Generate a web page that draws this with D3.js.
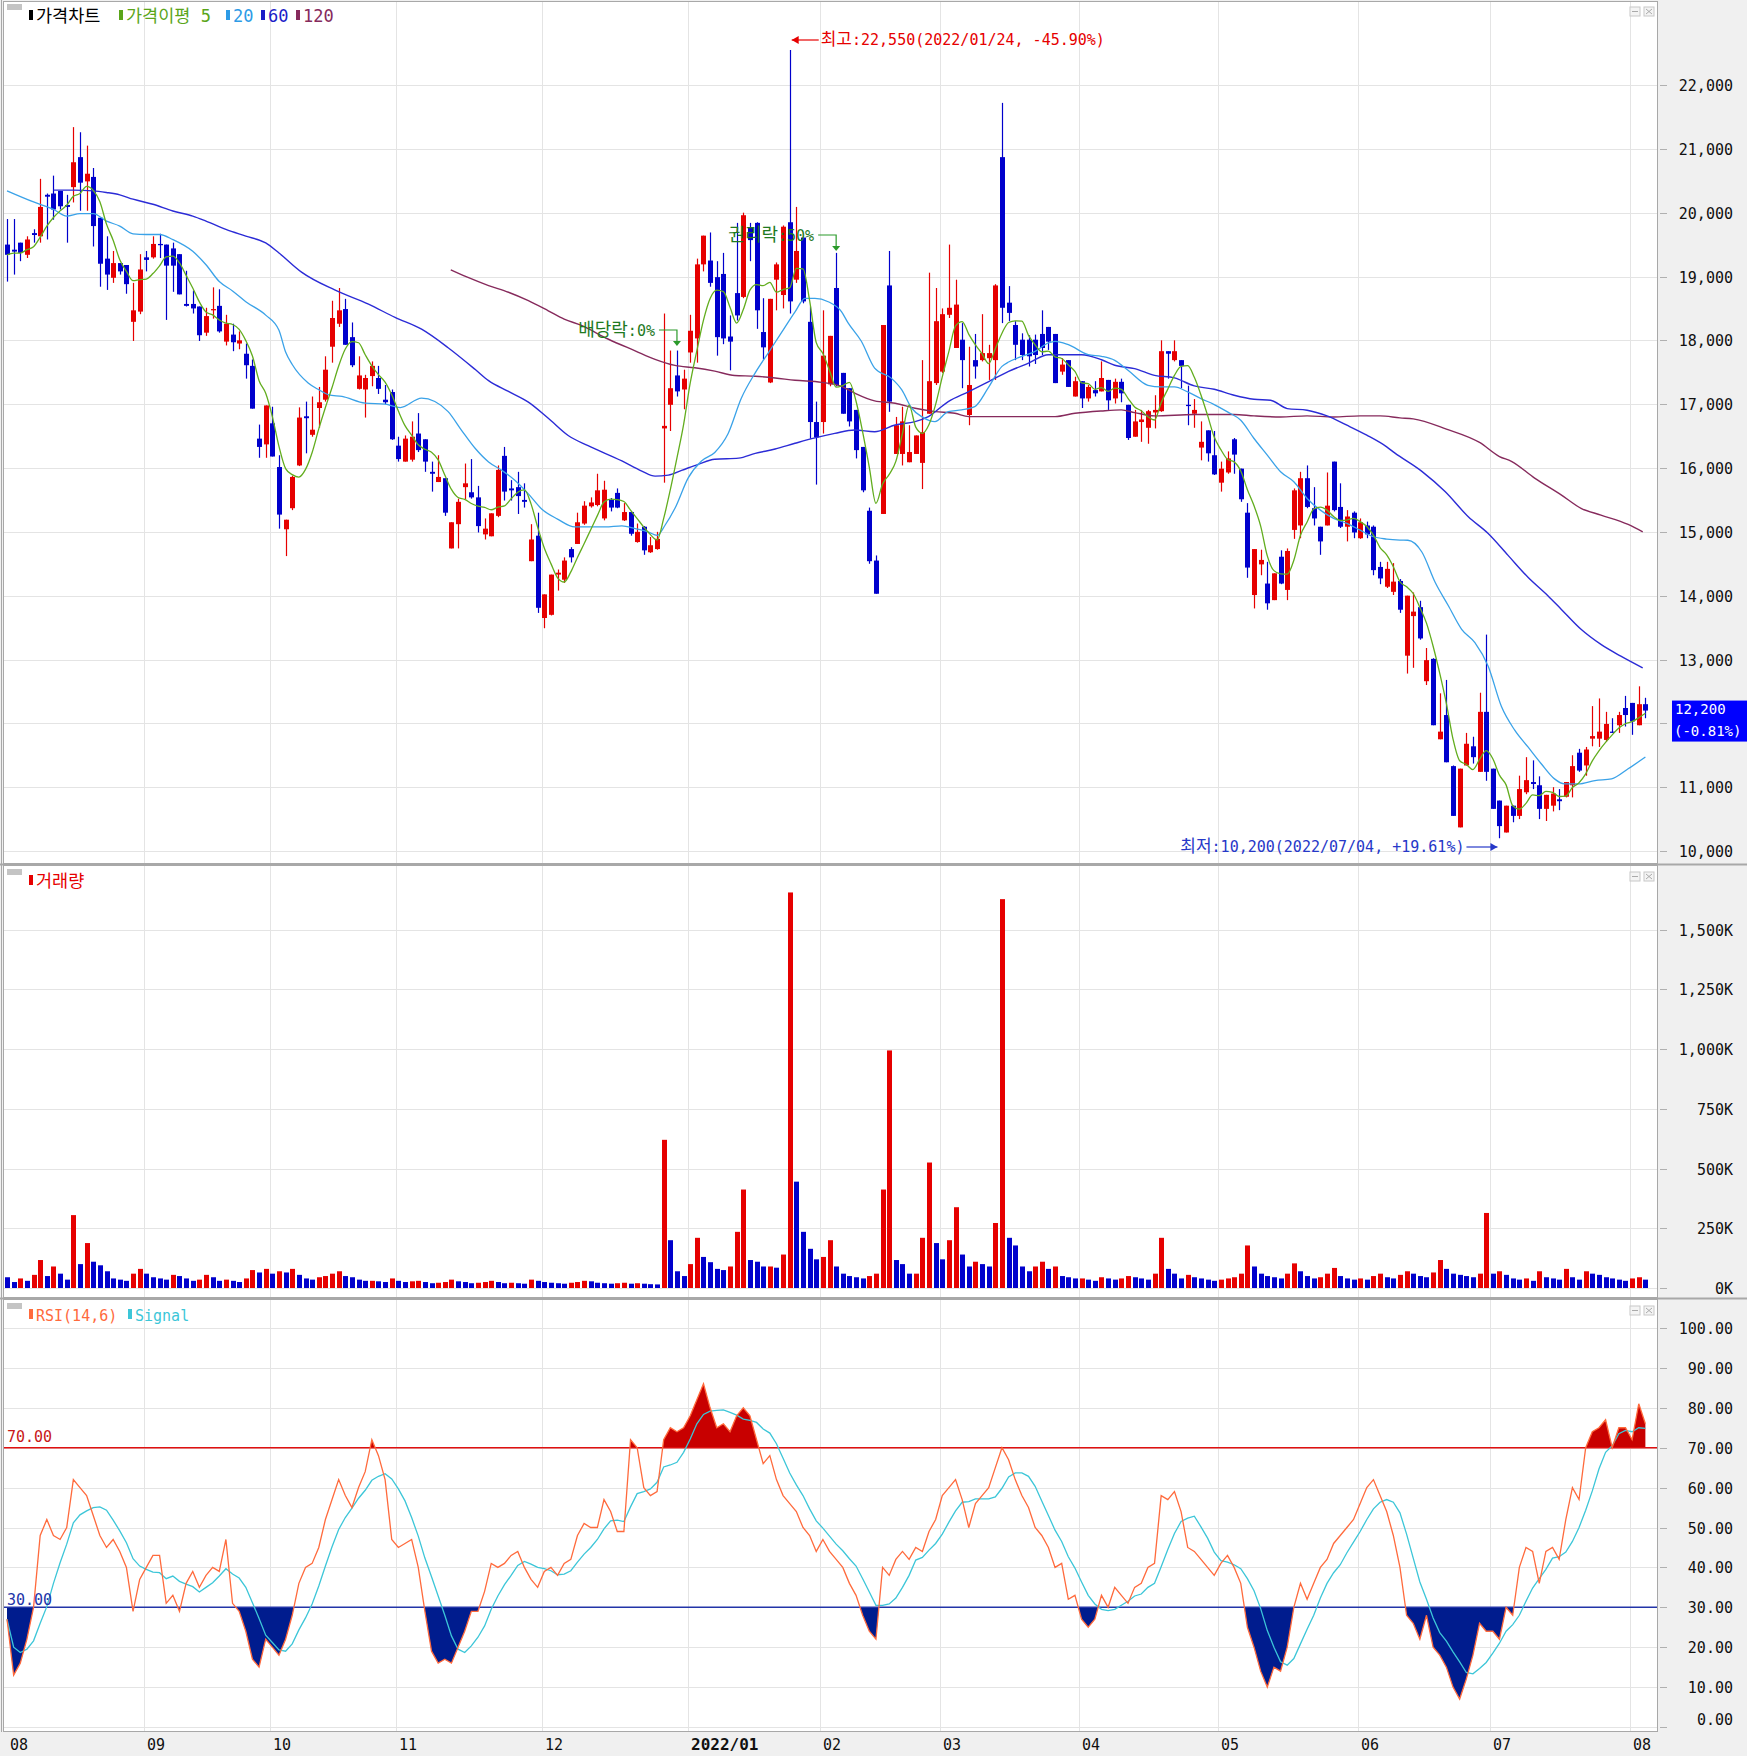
<!DOCTYPE html>
<html><head><meta charset="utf-8">
<script src="https://cdn.jsdelivr.net/npm/d3@7"></script>
<style>
html,body{margin:0;padding:0;background:#f0f0f0;}
svg{display:block;}
</style></head><body>
<svg id="c" width="1747" height="1756"></svg>
<script>
// ---------------- DATA ----------------
const monthDays = [
 ["2021-08",[2,3,4,5,6,9,10,11,12,13,17,18,19,20,23,24,25,26,27,30,31]],
 ["2021-09",[1,2,3,6,7,8,9,10,13,14,15,16,17,23,24,27,28,29,30]],
 ["2021-10",[1,5,6,7,8,12,13,14,15,18,19,20,21,22,25,26,27,28,29]],
 ["2021-11",[1,2,3,4,5,8,9,10,11,12,15,16,17,18,19,22,23,24,25,26,29,30]],
 ["2021-12",[1,2,3,6,7,8,9,10,13,14,15,16,17,20,21,22,23,24,27,28,29,30]],
 ["2022-01",[3,4,5,6,7,10,11,12,13,14,17,18,19,20,21,24,25,26,27,28]],
 ["2022-02",[3,4,7,8,9,10,11,14,15,16,17,18,21,22,23,24,25,28]],
 ["2022-03",[2,3,4,7,8,10,11,14,15,16,17,18,21,22,23,24,25,28,29,30,31]],
 ["2022-04",[1,4,5,6,7,8,11,12,13,14,15,18,19,20,21,22,25,26,27,28,29]],
 ["2022-05",[2,3,4,6,9,10,11,12,13,16,17,18,19,20,23,24,25,26,27,30,31]],
 ["2022-06",[2,3,7,8,9,10,13,14,15,16,17,20,21,22,23,24,27,28,29,30]],
 ["2022-07",[1,4,5,6,7,8,11,12,13,14,15,18,19,20,21,22,25,26,27,28,29]],
 ["2022-08",[1,2,3]]
];
const monthLabels = ["08","09","10","11","12","2022/01","02","03","04","05","06","07","08"];

const open = [
19500,19420,19530,19340,19680,19630,20280,20300,20340,20120,
20400,20870,20490,20560,19920,19280,18980,19210,19180,18290,
18450,19300,19300,19510,19500,19440,19350,18570,18570,18530,
18120,18470,18540,17980,18090,17950,17790,17600,16460,16370,
16700,16015,15040,15370,16040,16810,16520,16940,17070,17900,
18260,18490,18050,17240,17230,17440,17410,17070,17190,16350,
16100,16130,16540,16450,15940,15780,15840,14740,15120,15700,
15620,15540,14960,14930,15250,16190,15680,15700,15500,14540,
14940,13650,13700,14330,14250,14730,14810,15130,15400,15420,
15210,15500,15610,15180,15310,14840,15080,14680,14730,16620,
16990,17450,17230,17810,18030,19190,19250,18990,19040,18060,
18740,18680,19770,19840,18130,17340,18950,18710,19850,18950,
19610,18290,16720,16720,17310,18820,17490,17250,16910,16330,
15330,14550,15280,18860,16220,16220,16090,16220,16080,16850,
17330,17510,18400,17880,18010,16830,17690,17690,17720,17690,
20870,18590,18240,18010,18010,18010,18100,18210,18100,17510,
17690,17120,17360,17090,17220,17200,17380,17090,17350,16990,
16490,16720,16630,16870,16890,17830,17690,17690,16990,16850,
16320,16590,16200,15770,15930,16450,15990,15300,14010,14490,
14190,13930,14610,14090,15030,15100,15840,15370,15080,15100,
16100,15390,15080,15300,14900,15100,15080,14450,14140,14060,
14230,13060,13680,13820,12660,13010,11750,12130,11330,10370,
11340,11640,11240,12180,11290,10790,10290,10710,10550,10920,
11080,11030,10660,10710,10810,10850,11030,11540,11340,11760,
11760,11740,11870,11970,12240,12320,11970,12300];
const high = [
19900,19900,19530,19630,19740,20530,20300,20580,20340,20280,
21340,21260,21050,20700,19920,19630,19400,19210,19180,18900,
19350,19400,19630,19670,19500,19530,19350,19090,18780,18530,
18510,18830,18800,18400,18260,18140,17950,17700,16680,16980,
16960,16200,15190,15880,16950,17040,17120,17270,17750,18620,
18820,18650,18280,17750,17460,17670,17600,17300,17230,16490,
16510,16730,16860,16450,16100,16200,15840,15150,15520,16070,
16140,15720,15210,15290,16040,16330,15810,15940,15760,15120,
15300,14020,14330,14410,14600,14760,15300,15480,15540,15910,
15800,15530,15680,15450,15320,15130,15090,14920,15000,18420,
17840,17840,17540,18400,19280,19640,19690,19240,19370,18390,
19840,20000,19840,19850,18660,18650,19220,19800,22550,20090,
19610,18530,17040,18470,18070,19370,17490,17250,16910,16330,
15380,14630,18240,19400,16800,16960,16670,16510,17690,19060,
18820,18500,19500,18950,18270,17900,18100,18410,17930,18880,
21720,18850,18300,18110,18080,18090,18470,18210,18100,17720,
17690,17430,17360,17300,17360,17670,17380,17400,17400,16990,
16910,16910,16910,17140,18000,17830,18000,17690,17290,17080,
16730,16590,16580,16100,16260,16470,15990,15450,14730,14720,
14530,14350,14710,14740,15680,15940,16040,15700,15080,15930,
16100,15760,15340,15320,15210,15160,15100,14530,14530,14510,
14260,14000,14050,13920,13180,13020,12470,12680,11340,11290,
11850,11790,12480,13390,11290,10790,10710,10710,11180,11470,
11420,11170,10880,11000,10970,11080,11500,11600,11630,12270,
12390,12180,12080,12180,12430,12320,12580,12400];
const low = [
18920,19030,19240,19290,19530,19530,19580,19890,20050,19530,
20160,20030,20030,19470,18840,18790,18900,19030,18730,17990,
18410,19080,19280,19290,18320,18760,18720,18530,18420,17990,
18070,18340,18120,17920,17830,17860,17400,16930,16160,16160,
16180,15050,14620,15340,16030,16230,16490,16630,17040,17650,
18210,17930,17580,17230,16790,17280,17160,17000,16440,16100,
16100,16100,16250,15940,15630,15780,15250,14740,14740,15510,
15520,14990,14880,14930,15230,15490,15490,15280,15380,14540,
13730,13490,13690,14080,14200,14520,14810,15110,15380,15400,
15180,15320,15370,15170,14940,14830,14640,14670,14720,15770,
16580,17120,16920,17650,17650,19080,18840,17760,17940,17530,
18310,18660,19240,18180,17700,17330,18470,18500,18420,18900,
18580,16460,15740,16540,17280,17280,16850,16650,16150,15620,
14500,14030,15280,16880,16220,16040,16090,16220,15670,16850,
17300,17490,18350,17880,17250,16670,17400,17670,17380,17380,
18270,18300,17690,17690,17590,17630,17770,17850,17330,17460,
17270,17120,16940,17040,17120,17200,16910,17010,17030,16440,
16490,16410,16380,16620,16880,17400,17670,17250,16670,16630,
16120,16100,15890,15630,15910,15910,15470,14280,13800,14320,
13780,13930,14180,13930,14890,14900,15370,15100,14640,15100,
15320,15060,14850,14900,14890,14900,14320,14180,14120,14010,
13730,12780,12870,13310,12600,11970,11750,11390,10550,10370,
11340,11370,11240,11100,10660,10200,10290,10450,10500,10890,
10970,10500,10470,10620,10640,10840,10840,11240,11180,11640,
11630,11710,11850,11850,11950,11820,11970,12080];
const close = [
19340,19390,19370,19580,19650,20090,20250,20050,20100,20090,
20790,20470,20610,19790,19200,19030,19210,19080,18880,18470,
19110,19260,19510,19490,19170,19170,18720,18540,18500,18080,
18380,18490,18140,18260,17970,18000,17610,16930,16330,16980,
16180,15270,15190,15860,16790,16780,16600,17030,17540,18350,
18470,17930,17610,17450,17410,17600,17240,17030,16450,16140,
16460,16490,16280,16100,15910,15860,15300,15150,15470,15760,
15540,15090,15050,15290,15970,15630,15650,15560,15470,14880,
13810,14020,14330,14360,14550,14600,15150,15410,15460,15650,
15660,15380,15380,15310,14970,15000,14710,14790,14890,16660,
17250,17200,17400,18150,19190,19640,18900,18050,18030,17980,
18390,19960,19570,18470,17890,18650,19190,19780,18610,19400,
18610,16720,16480,17760,18070,17300,16850,16730,16280,15650,
14540,14030,18240,17040,16670,16730,16250,16510,16560,17360,
18300,18410,18510,18560,17690,17300,17590,17800,17800,18860,
18510,18430,17930,17770,17750,17770,17880,17980,17330,17620,
17270,17360,17090,17270,17170,17410,17060,17350,17170,16470,
16730,16760,16890,16910,17830,17790,17830,17600,16970,16910,
16410,16230,15900,15990,16150,16210,15510,14440,14730,14560,
13880,14350,14190,14700,15650,15840,15390,15210,14850,15410,
15340,15080,15240,14990,15150,14960,14400,14270,14420,14220,
13780,14000,13750,13330,12990,11970,11870,11390,10550,11290,
11680,11470,12180,11240,10660,10390,10710,10550,10970,11110,
11050,10660,10880,10900,10780,11080,11330,11260,11590,11800,
11870,11990,11850,12130,12130,12030,12300,12200];
// volume, thousands of shares
const volume = [
45,25,40,30,55,117,50,90,60,35, 305,100,188,110,95,70,40,35,30,60, 80,
60,45,40,35,55,50,40,30,35,55,45,30,35,30,25,40,75,65,80,
60,70,65,80,55,40,35,45,50,60,70,50,45,35,30,30,28,25,40,
30,25,28,30,25,20,22,25,35,28,25,20,22,25,30,25,20,22,20,18,35,30,
25,22,20,18,22,25,30,28,22,20,18,20,22,18,20,18,16,15,620,200,70,50,
100,210,130,108,80,75,90,235,412,117,110,90,90,85,140,1655,445,235,164,120,
130,200,90,60,50,45,40,50,60,412,994,117,100,60,60,210,525,188,
120,200,338,140,90,110,100,90,272,1627,210,178,90,70,90,110,80,90,50,45,40,
40,35,30,45,40,35,40,50,45,40,35,60,210,80,60,40,55,45,40,35,30,
35,40,45,60,178,90,60,50,45,40,60,103,70,50,40,45,60,84,50,40,35,
40,35,50,60,45,40,55,70,60,50,45,65,117,80,60,55,50,45,60,314,
60,70,55,40,35,40,30,70,45,40,35,80,45,35,70,60,55,45,40,35,30,
40,45,35];
// RSI(14) values
const rsi = [
27,13,16,22,30,48,52,48,47,50, 62,60,58,53,48,45,47,44,40,29,
37,40,43,43,31,33,29,36,39,35, 38,40,39,47,31,29,24,17,15,22,
20,18,22,28,36,40,41,45,52,57, 62,58,55,60,64,72,68,62,47,45,
46,47,40,29,19,16,17,16,20,24, 29,29,34,41,40,41,43,44,40,37,
35,39,40,38,41,42,48,51,50,50, 57,54,49,49,72,70,60,58,59,72,
75,74,75,78,82,86,80,75,76,74, 78,80,78,72,66,68,62,58,56,54,
50,48,44,47,44,42,40,36,33,28, 24,22,40,38,42,44,42,45,44,49,
52,58,60,62,57,50,56,58,60,65, 70,67,62,58,55,50,48,45,40,41,
32,33,27,25,27,33,30,35,33,31, 35,36,40,41,58,57,59,54,45,44,
42,40,38,41,43,40,36,25,20,14, 10,15,14,20,30,36,32,36,40,42,
46,48,50,52,56,60,62,58,54,48, 40,28,26,22,28,20,18,15,10,7,
12,18,26,24,24,22,30,28,40,45, 44,36,44,45,42,52,60,57,70,74,
75,77,70,75,75,72,81,76];
// moving averages: [candle index, value]
const ma20Pts = [[0,20342],[4,20168],[7,20053],[9,19947],[11,19984],[13,19984],[15,19868],[17,19790],[19,19668],[21,19658],[23,19658],[25,19579],[28,19395],[30,19184],[32,18921],[34,18774],[36,18605],[39,18395],[41,18158],[42,17816],[43,17621],[45.4,17332],[47,17226],[48.5,17147],[50.5,17121],[54,17016],[57,17000],[59.3,16947],[62.5,17095],[64.5,17042],[66.5,16884],[68.5,16595],[70.6,16305],[72.6,16095],[74.6,15963],[76.6,15805],[78.6,15595],[80.6,15358],[83,15200],[85.6,15077],[90.2,15077],[92.7,15093],[94.7,15050],[96.7,14997],[98,14944],[99.2,15103],[100.7,15369],[102.7,15846],[104.7,16111],[106.7,16244],[108.7,16536],[110.7,17093],[112.8,17491],[114.8,17809],[116.8,18127],[118.8,18446],[120.3,18658],[121.8,18658],[123.8,18605],[125.8,18450],[126.8,18273],[128.8,17985],[130.8,17565],[133.3,17408],[134.9,17224],[136.4,16936],[137.9,16805],[139.9,16726],[141.9,16884],[143.9,16910],[145.9,16962],[147.9,17251],[150,17592],[151,17660],[153,17749],[155,17827],[157,17959],[158,17985],[160,17932],[163,17775],[165,17749],[167,17687],[169,17531],[172,17296],[174,17270],[176,17270],[178,17192],[180,17087],[182,16994],[184,16879],[186,16748],[188,16462],[190,16201],[192,15940],[194,15784],[196,15523],[198,15340],[200,15210],[202,15132],[204,15027],[206,14923],[208,14887],[210,14871],[211.2,14868],[213.3,14684],[215.3,14210],[217.3,13842],[219.3,13473],[221.3,13263],[223.3,12894],[225.3,12262],[227.3,11893],[229.3,11630],[231.3,11367],[233.3,11130],[234.8,11051],[236.9,11051],[239.4,11104],[241.9,11130],[244.4,11288],[247,11472]];
const ma60Pts = [[7,20353],[10,20353],[13,20342],[15,20316],[17,20279],[19,20211],[22,20132],[25,20026],[28,19947],[30,19868],[33,19737],[36,19632],[39,19526],[41,19368],[44.4,19068],[49.4,18789],[54.5,18568],[58.5,18358],[62.5,18174],[66.5,17884],[70.6,17542],[72.6,17368],[75.6,17200],[78.6,17032],[81.6,16779],[84.6,16509],[87.6,16350],[92.7,16111],[95.7,15952],[97.7,15873],[99.7,15889],[101.7,15963],[104.2,16058],[106.7,16138],[110.3,16154],[112.8,16228],[115.8,16297],[118.8,16387],[121.8,16472],[124.8,16543],[127.8,16595],[130.8,16569],[133.9,16674],[136.9,16726],[138.9,16805],[141.9,17041],[145,17198],[148,17355],[151,17513],[154,17644],[157,17775],[159,17775],[162,17775],[165,17696],[167,17609],[170,17557],[173,17452],[176,17411],[179,17286],[182,17233],[185,17140],[188,17077],[190.5,17061],[193,16931],[196,16905],[199,16816],[202,16670],[205,16514],[208,16331],[209.2,16237],[213.3,15947],[216.8,15631],[220.3,15237],[223.3,14974],[226.3,14631],[229.3,14289],[232.3,14000],[234.3,13789],[237.3,13473],[240.3,13236],[243.3,13052],[246.6,12868]];
const ma120Pts = [[66.9,19105],[69.4,18989],[72.6,18858],[75.6,18753],[78.6,18621],[81.6,18463],[84,18332],[86.6,18233],[90.6,18021],[94.7,17836],[97.7,17703],[100.7,17607],[103.7,17570],[106.7,17517],[109.7,17448],[112.8,17438],[115.8,17411],[118.8,17374],[122.8,17342],[125.8,17279],[127.8,17172],[130.8,17051],[133.9,17015],[136.9,16936],[139.9,16884],[142.9,16857],[145,16805],[148,16805],[153,16805],[158,16805],[161,16857],[165,16894],[168,16910],[170,16868],[173,16816],[179,16837],[185,16837],[188,16816],[192,16800],[196,16816],[200,16800],[204,16816],[207,16816],[210,16785],[212,16770],[217,16610],[222,16400],[225,16180],[226.8,16105],[230.3,15842],[234.3,15579],[237.3,15368],[240.3,15263],[244.4,15116],[246.6,15000]];
const priceTicks = [10000,11000,12000,13000,14000,15000,16000,17000,18000,19000,20000,21000,22000];
const volTicks = [0,250,500,750,1000,1250,1500];
const rsiTicks = [0,10,20,30,40,50,60,70,80,90,100];
const lastPrice = 12200, lastChange = "-0.81%";
const highNote = {label:"최고:22,550(2022/01/24, -45.90%)", date:"2022-01-24", value:22550};
const lowNote = {label:"최저:10,200(2022/07/04, +19.61%)", date:"2022-07-04", value:10200};
const eventNotes = [{label:"배당락:0%", date:"2021-12-29"},{label:"권리락:50%", date:"2022-02-07"}];

// ---------------- BUILD ----------------
const dates = monthDays.flatMap(([m,ds]) => ds.map(d => m + "-" + String(d).padStart(2,"0")));
const monthStarts = monthDays.map(([m,ds]) => m + "-" + String(ds[0]).padStart(2,"0"));

const svg = d3.select("#c");
const FONT = '"DejaVu Sans Mono","Noto Sans CJK KR",monospace';
const PL = 4, PR = 1657;
const P = [{t:2,b:863},{t:866,b:1297},{t:1300,b:1731}];

const xb = d3.scaleBand().domain(dates).range([3.7,1648.7]).paddingInner(0.28).paddingOuter(0.14);
const bw = xb.bandwidth(), step = xb.step();
const xc = d => xb(d) + bw/2;
const xi = i => xb(dates[0]) + bw/2 + i*step;

const yP = d3.scaleLinear().domain([10000,22000]).range([851,85]);
const yV = d3.scaleLinear().domain([0,1500]).range([1288,929.5]);
const yR = d3.scaleLinear().domain([0,100]).range([1727,1328]);

// price box extent (covers the axis label behind it)
const boxTop = yP(lastPrice) - 10, boxBottom = yP(lastPrice) + 31;

function richText(g, x, y, str, size, hsize, fill, anchor){
  const t = g.append("text").attr("x",x).attr("y",y).attr("font-family",FONT).attr("font-size",size).attr("fill",fill);
  if (anchor) t.attr("text-anchor",anchor);
  str.split(/([가-힣]+)/).filter(s=>s.length).forEach(s => {
    const ts = t.append("tspan").text(s);
    if (/[가-힣]/.test(s)) ts.attr("font-size",hsize);
  });
  return t;
}

// backgrounds
svg.append("rect").attr("width",1747).attr("height",1756).attr("fill","#f0f0f0");
P.forEach(p => svg.append("rect").attr("x",PL).attr("y",p.t).attr("width",PR-PL).attr("height",p.b-p.t).attr("fill","#fff"));

const grid = svg.append("g").attr("stroke","#e4e4e4").attr("stroke-width",1);
P.forEach(p => {
  monthStarts.slice(1).forEach(d => {
    const x = Math.round(xb(d))+0.5;
    grid.append("line").attr("x1",x).attr("x2",x).attr("y1",p.t).attr("y2",p.b);
  });
});
const hgrid = (ticks, y, p) => ticks.forEach(t => {
  const yy = Math.round(y(t))+0.5;
  if (yy > p.t && yy < p.b) grid.append("line").attr("x1",PL).attr("x2",PR).attr("y1",yy).attr("y2",yy);
});
hgrid(priceTicks, yP, P[0]); hgrid(volTicks, yV, P[1]); hgrid(rsiTicks, yR, P[2]);

// axis labels and ticks
const axisG = svg.append("g").attr("font-family",FONT).attr("font-size",15).attr("fill","#111").attr("text-anchor","end");
const axisLabels = (ticks, y, fmt, bottom, skip) => ticks.forEach(t => {
  const yy = Math.round(y(t))+0.5;
  axisG.append("line").attr("x1",PR+3).attr("x2",PR+10).attr("y1",yy).attr("y2",yy).attr("stroke","#b0b0b0");
  if (skip && skip(yy)) return;
  axisG.append("text").attr("x",1733).attr("y",Math.min(yy+5,bottom)).text(fmt(t));
});
axisLabels(priceTicks, yP, d3.format(","), 860, yy => yy > boxTop - 8 && yy < boxBottom + 8);
axisLabels(volTicks, yV, v => d3.format(",")(v)+"K", 1294);
axisLabels(rsiTicks, yR, v => v.toFixed(2), 1725);

// x labels
const xl = svg.append("g").attr("font-family",FONT).attr("font-size",15).attr("fill","#111");
monthStarts.forEach((d,k) => {
  const t = xl.append("text").attr("x", Math.round(xb(d)) + (k===0?5:3)).attr("y",1750).text(monthLabels[k]);
  if (monthLabels[k].length > 2) t.attr("font-weight","bold").attr("font-size",16);
});

// ---------- price panel ----------
const UP = "#e60000", DN = "#0000cc";
const cg = svg.append("g");
dates.forEach((d,i) => {
  const up = close[i] >= open[i];
  const col = up ? UP : DN;
  const x = Math.round(xc(d));
  cg.append("line").attr("x1",x+0.5).attr("x2",x+0.5).attr("y1",yP(high[i])).attr("y2",yP(low[i])).attr("stroke",col).attr("stroke-width",1.2);
  const y1 = yP(Math.max(open[i],close[i])), y2 = yP(Math.min(open[i],close[i]));
  cg.append("rect").attr("x",x-2).attr("y",y1).attr("width",5).attr("height",Math.max(1.2,y2-y1)).attr("fill",col);
});

// moving averages
const ma5 = close.map((c,i) => d3.mean(close.slice(Math.max(0,i-4), i+1)));
const lineIdx = d3.line().x(p => xi(p[0])).y(p => yP(p[1])).curve(d3.curveMonotoneX);
svg.append("path").attr("d", lineIdx(ma120Pts)).attr("fill","none").attr("stroke","#862a5c").attr("stroke-width",1.4);
svg.append("path").attr("d", lineIdx(ma60Pts)).attr("fill","none").attr("stroke","#2b2bd6").attr("stroke-width",1.4);
svg.append("path").attr("d", lineIdx(ma20Pts)).attr("fill","none").attr("stroke","#3aa2e8").attr("stroke-width",1.3);
svg.append("path").attr("d", lineIdx(ma5.map((v,i)=>[i,v]))).attr("fill","none").attr("stroke","#62ad1e").attr("stroke-width",1.3);

// legends
const legendItem = (g, x, y, col, txt, size, hsize) => {
  g.append("rect").attr("x",x).attr("y",y-12).attr("width",4).attr("height",10).attr("fill",col);
  richText(g, x+7, y, txt, size, hsize, col);
};
const boxIcon = (y) => {
  svg.append("rect").attr("x",7).attr("y",y).attr("width",15).attr("height",6).attr("fill","#c4c4c4");
  svg.append("rect").attr("x",1630).attr("y",y+3).attr("width",10).attr("height",9).attr("fill","#f4f4f4").attr("stroke","#c8c8c8");
  svg.append("rect").attr("x",1644).attr("y",y+3).attr("width",10).attr("height",9).attr("fill","#f4f4f4").attr("stroke","#c8c8c8");
  svg.append("line").attr("x1",1632).attr("x2",1638).attr("y1",y+7.5).attr("y2",y+7.5).attr("stroke","#aaa");
  svg.append("path").attr("d",`M1646,${y+5}L1652,${y+10}M1652,${y+5}L1646,${y+10}`).attr("stroke","#aaa");
};
const lg = svg.append("g");
boxIcon(4);
legendItem(lg, 29, 22, "#000", "가격차트", 17, 17.5);
legendItem(lg, 119, 22, "#5aa51a", "가격이평 5", 17, 17.5);
legendItem(lg, 226, 22, "#2d9be6", "20", 17, 17);
legendItem(lg, 261, 22, "#1c1cc8", "60", 17, 17);
legendItem(lg, 296, 22, "#862a5c", "120", 17, 17);

// annotations
const an = svg.append("g");
(function(){
  const i = dates.indexOf(highNote.date);
  const x = xi(i) + 2, y = 40;
  an.append("line").attr("x1",x).attr("x2",x+27).attr("y1",y).attr("y2",y).attr("stroke",UP).attr("stroke-width",1.2);
  an.append("path").attr("d",`M${x},${y}l7,-4v8z`).attr("fill",UP);
  richText(an, x+29, y+5, highNote.label, 15, 17, UP);
})();
(function(){
  const i = dates.indexOf(lowNote.date);
  const x = xi(i) - 2, y = 847;
  an.append("line").attr("x1",x-31).attr("x2",x).attr("y1",y).attr("y2",y).attr("stroke","#2638c8").attr("stroke-width",1.2);
  an.append("path").attr("d",`M${x},${y}l-7,-4v8z`).attr("fill","#2638c8");
  richText(an, x-33, y+5, lowNote.label, 15, 17, "#2638c8", "end");
})();
eventNotes.forEach((e,k) => {
  const i = dates.indexOf(e.date);
  const x = xi(i), ytxt = k===0 ? 330 : 235;
  const tx = x - 22;
  richText(an, tx, ytxt+6, e.label, 15, 18, "#1f7a1f", "end");
  an.append("path").attr("d",`M${tx+4},${ytxt}H${x}V${ytxt+13}`).attr("fill","none").attr("stroke","#2a9a2a").attr("stroke-width",1.2);
  an.append("path").attr("d",`M${x-4},${ytxt+11}h8l-4,5z`).attr("fill","#2a9a2a");
});

// current price box
(function(){
  const y = yP(lastPrice);
  svg.append("rect").attr("x",1672).attr("y",boxTop).attr("width",75).attr("height",boxBottom-boxTop).attr("fill","#0000ff");
  svg.append("text").attr("x",1675).attr("y",y+3).attr("font-family",FONT).attr("font-size",14).attr("fill","#fff").text(d3.format(",")(lastPrice));
  svg.append("text").attr("x",1674).attr("y",y+25).attr("font-family",FONT).attr("font-size",14).attr("fill","#fff").text("("+lastChange+")");
})();

// ---------- volume panel ----------
const vg = svg.append("g");
dates.forEach((d,i) => {
  const up = i===0 ? false : volume[i] >= volume[i-1];
  const x = Math.round(xc(d));
  vg.append("rect").attr("x",x-2).attr("y",yV(volume[i])).attr("width",5).attr("height",yV(0)-yV(volume[i])).attr("fill", up ? UP : DN);
});
boxIcon(869);
const lg2 = svg.append("g");
legendItem(lg2, 29, 887, "#e60000", "거래량", 17, 17.5);

// ---------- RSI panel ----------
const signal = rsi.map((v,i) => d3.mean(rsi.slice(Math.max(0,i-5), i+1)));
const defs = svg.append("defs");
defs.append("clipPath").attr("id","hi").append("rect").attr("x",PL).attr("y",P[2].t).attr("width",PR-PL).attr("height",yR(70)-P[2].t);
defs.append("clipPath").attr("id","lo").append("rect").attr("x",PL).attr("y",yR(30)).attr("width",PR-PL).attr("height",P[2].b-yR(30));
const areaHi = d3.area().x((v,i)=>xi(i)).y0(yR(70)).y1(v=>yR(v));
const areaLo = d3.area().x((v,i)=>xi(i)).y0(yR(30)).y1(v=>yR(v));
svg.append("path").attr("d",areaHi(rsi)).attr("fill","#c80000").attr("clip-path","url(#hi)");
svg.append("path").attr("d",areaLo(rsi)).attr("fill","#001c8e").attr("clip-path","url(#lo)");
svg.append("line").attr("x1",PL).attr("x2",PR).attr("y1",yR(70)).attr("y2",yR(70)).attr("stroke","#e01010").attr("stroke-width",1.6);
svg.append("line").attr("x1",PL).attr("x2",PR).attr("y1",yR(30)).attr("y2",yR(30)).attr("stroke","#2234a8").attr("stroke-width",1.6);
const rl = d3.line().x((v,i)=>xi(i)).y(v=>yR(v));
svg.append("path").attr("d",rl(signal)).attr("fill","none").attr("stroke","#3cc6d8").attr("stroke-width",1.3);
svg.append("path").attr("d",rl(rsi)).attr("fill","none").attr("stroke","#ff6a3c").attr("stroke-width",1.3);
svg.append("text").attr("x",7).attr("y",yR(70)-6).attr("font-family",FONT).attr("font-size",15).attr("fill","#c81818").text("70.00");
svg.append("text").attr("x",7).attr("y",yR(30)-2).attr("font-family",FONT).attr("font-size",15).attr("fill","#2234a8").text("30.00");
boxIcon(1303);
const lg3 = svg.append("g");
legendItem(lg3, 29, 1321, "#ff6a3c", "RSI(14,6)", 15, 15);
legendItem(lg3, 128, 1321, "#3cc6d8", "Signal", 15, 15);

// frames
const fr = svg.append("g").attr("fill","none").attr("stroke","#a8a8a8");
P.forEach(p => fr.append("rect").attr("x",PL-0.5).attr("y",p.t-0.5).attr("width",PR-PL+1).attr("height",p.b-p.t+1));
fr.append("line").attr("x1",0).attr("x2",1747).attr("y1",864.5).attr("y2",864.5).attr("stroke-width",2);
fr.append("line").attr("x1",0).attr("x2",1747).attr("y1",1298.5).attr("y2",1298.5).attr("stroke-width",2);
fr.append("line").attr("x1",1.5).attr("x2",1.5).attr("y1",0).attr("y2",1732);
</script>
</body></html>
